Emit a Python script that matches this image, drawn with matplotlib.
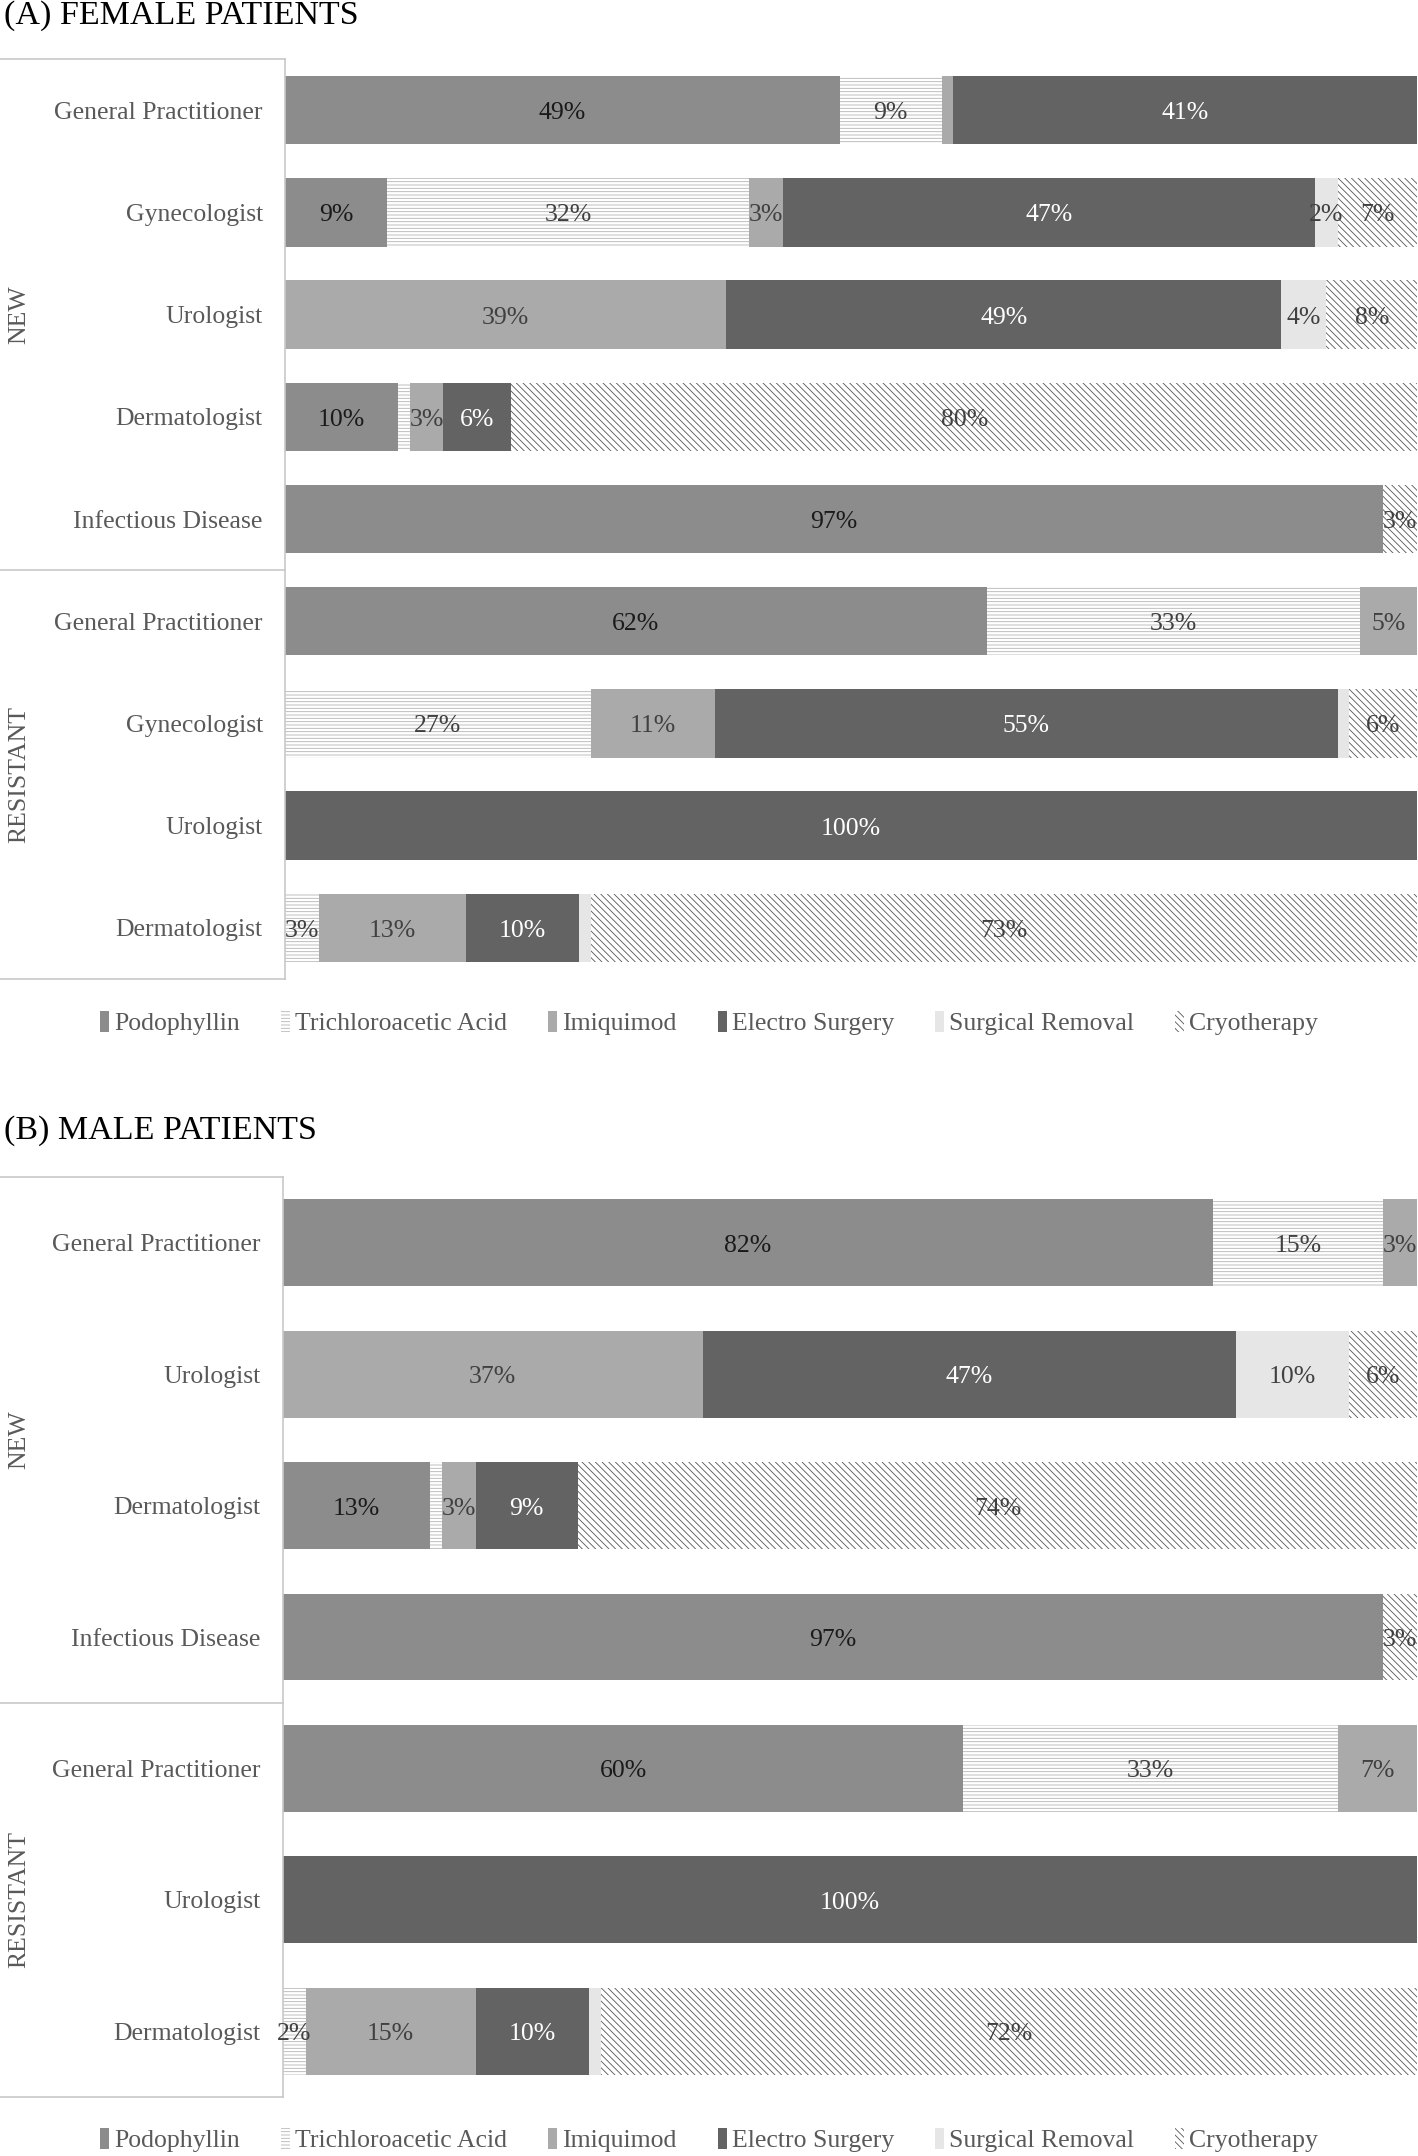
import matplotlib
matplotlib.use('Agg')
import matplotlib.pyplot as plt
from matplotlib.lines import Line2D
from matplotlib.transforms import offset_copy

plt.rcParams['font.family'] = ['Liberation Serif', 'DejaVu Serif']
plt.rcParams['hatch.linewidth'] = 0.6

#treatment series, same order in both panels
treatments = ['Podophyllin', 'Trichloroacetic Acid', 'Imiquimod',
              'Electro Surgery', 'Surgical Removal', 'Cryotherapy']

#(A) female patients
female_groups = ['NEW', 'RESISTANT']
female_group_sizes = [5, 4]
female_rows = ['General Practitioner', 'Gynecologist', 'Urologist', 'Dermatologist',
               'Infectious Disease',
               'General Practitioner', 'Gynecologist', 'Urologist', 'Dermatologist']
female_podophyllin = [49, 9, 0, 10, 97, 62, 0, 0, 0]
female_tca = [9, 32, 0, 1, 0, 33, 27, 0, 3]
female_imiquimod = [1, 3, 39, 3, 0, 5, 11, 0, 13]
female_electro = [41, 47, 49, 6, 0, 0, 55, 100, 10]
female_surgical = [0, 2, 4, 0, 0, 0, 1, 0, 1]
female_cryo = [0, 7, 8, 80, 3, 0, 6, 0, 73]

#(B) male patients
male_groups = ['NEW', 'RESISTANT']
male_group_sizes = [4, 3]
male_rows = ['General Practitioner', 'Urologist', 'Dermatologist', 'Infectious Disease',
             'General Practitioner', 'Urologist', 'Dermatologist']
male_podophyllin = [82, 0, 13, 97, 60, 0, 0]
male_tca = [15, 0, 1, 0, 33, 0, 2]
male_imiquimod = [3, 37, 3, 0, 7, 0, 15]
male_electro = [0, 47, 9, 0, 0, 100, 10]
male_surgical = [0, 10, 0, 0, 0, 0, 1]
male_cryo = [0, 6, 74, 3, 0, 0, 72]

#look of each series: face, hatch colour, hatch, label colour
styles = [
    dict(color='#8c8c8c', edgecolor='#8c8c8c', hatch=None, text='#1a1a1a'),
    dict(color='white', edgecolor='#b4b4b4', hatch='-----', text='#404040'),
    dict(color='#aaaaaa', edgecolor='#aaaaaa', hatch=None, text='#404040'),
    dict(color='#636363', edgecolor='#636363', hatch=None, text='white'),
    dict(color='#e6e6e6', edgecolor='#e6e6e6', hatch=None, text='#404040'),
    dict(color='white', edgecolor='#555555', hatch='\\' * 5, text='#404040'),
]

W, H = 1418, 2156
fig = plt.figure(figsize=(W / 100, H / 100), dpi=100)
line_col = '#c8c8c8'
txt_col = '#595959'
fs = 18.5


def panel(title, title_y, top, bottom, axis_x, rows, groups, sizes, series,
          bar_h, legend_y):
    ax = fig.add_axes([axis_x / W, 1 - bottom / H, (W - 1 - axis_x) / W, (bottom - top) / H])
    n = len(rows)
    ypos = list(range(n))
    left = [0] * n
    handles = []
    lab_tr = offset_copy(ax.transData, fig=fig, y=-3, units='dots')
    for name, vals, st in zip(treatments, series, styles):
        bars = ax.barh(ypos, vals, left=left, height=bar_h, color=st['color'],
                       edgecolor=st['edgecolor'], hatch=st['hatch'], linewidth=0,
                       label=name)
        #labels sit in the middle of each segment, tiny ones are skipped
        for y, l, v in zip(ypos, left, vals):
            if v >= 2:
                ax.text(l + v / 2, y, '%d%%' % v, ha='center', va='center',
                        color=st['text'], fontsize=fs, transform=lab_tr)
        handles.append(bars)
        left = [a + b for a, b in zip(left, vals)]
    ax.set_xlim(0, 100)
    ax.set_ylim(n - 0.5, -0.5)
    ax.set_xticks([])
    ax.set_yticks(ypos, rows)
    ax.tick_params(axis='y', length=0, pad=16, labelsize=fs, labelcolor=txt_col)
    for s in ['top', 'right', 'bottom']:
        ax.spines[s].set_visible(False)
    ax.spines['left'].set_color(line_col)
    ax.spines['left'].set_linewidth(1.2)

    #multi-level category box on the left
    x1 = axis_x / W
    row_h = (bottom - top) / n
    edges = [top]
    for s in sizes:
        edges.append(edges[-1] + s * row_h)
    for e in edges:
        fig.add_artist(Line2D([0, x1], [1 - e / H, 1 - e / H], color=line_col, lw=1.2))
    for g, a, b in zip(groups, edges[:-1], edges[1:]):
        fig.text(19 / W, 1 - (a + b) / 2 / H, g, rotation=90, ha='center', va='center',
                 fontsize=fs, color=txt_col)

    fig.text(4 / W, 1 - title_y / H, title, fontsize=24.5, va='center', ha='left',
             color='black')
    fig.legend(handles=handles, loc='center', bbox_to_anchor=(0.5, 1 - legend_y / H),
               ncol=6, frameon=False, fontsize=fs, labelcolor=txt_col,
               handlelength=0.35, handleheight=0.9, handletextpad=0.2,
               columnspacing=1.6)
    return ax


panel('(A) FEMALE PATIENTS', 16, 59, 979, 285, female_rows, female_groups,
      female_group_sizes,
      [female_podophyllin, female_tca, female_imiquimod, female_electro,
       female_surgical, female_cryo], 0.67, 1023)

panel('(B) MALE PATIENTS', 1131, 1177, 2097, 283, male_rows, male_groups,
      male_group_sizes,
      [male_podophyllin, male_tca, male_imiquimod, male_electro,
       male_surgical, male_cryo], 0.66, 2140)

fig.savefig('out.png', dpi=100)
